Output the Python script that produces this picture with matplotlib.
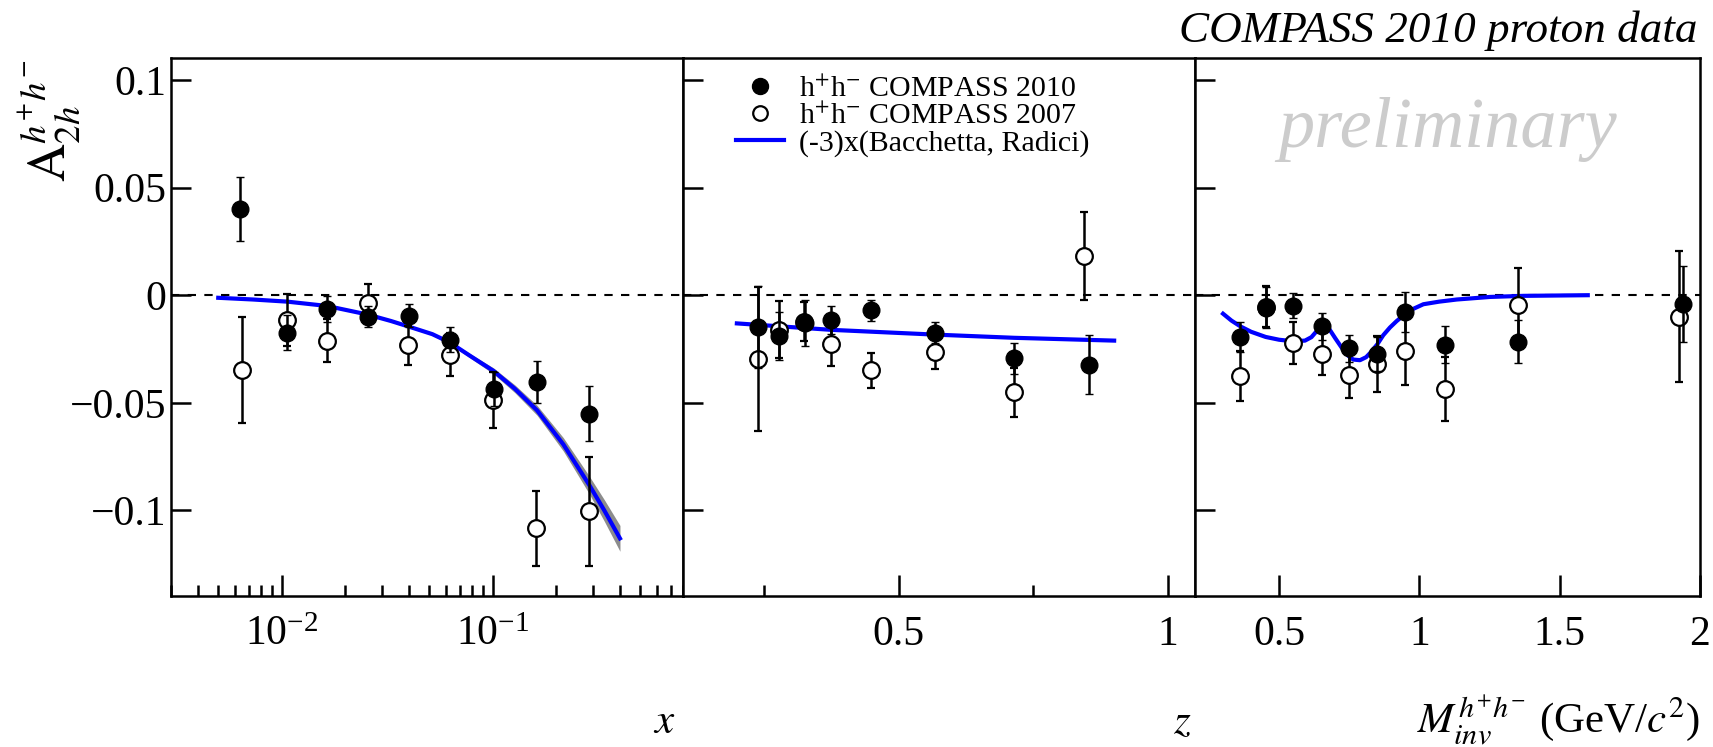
import numpy as np
import matplotlib
matplotlib.use("Agg")
import matplotlib.pyplot as plt
from matplotlib.lines import Line2D
from matplotlib.ticker import FixedLocator, NullFormatter, LogLocator, LogFormatterMathtext

plt.rcParams["font.family"] = ["Liberation Serif", "DejaVu Serif"]
plt.rcParams["mathtext.fontset"] = "stix"

# --- x panel (log scale) ---
x_2010 = [0.00633, 0.01054, 0.01644, 0.0256, 0.0401, 0.0630, 0.1011, 0.1626, 0.2867]
ax_2010 = [0.0400, -0.0174, -0.0063, -0.0100, -0.0095, -0.0206, -0.0435, -0.0405, -0.0551]
ex_2010 = [0.0147, 0.0080, 0.0060, 0.0050, 0.0052, 0.0060, 0.0080, 0.0098, 0.0127]
x_2007 = [0.00649, 0.0106, 0.01644, 0.0256, 0.0398, 0.0625, 0.1007, 0.161, 0.2867]
ax_2007 = [-0.0349, -0.0115, -0.0211, -0.0037, -0.0233, -0.0277, -0.0488, -0.1083, -0.1005]
ex_2007 = [0.0246, 0.0120, 0.0100, 0.0087, 0.0090, 0.0100, 0.0130, 0.0174, 0.0253]
x_model = [0.005, 0.00732, 0.01066, 0.0164, 0.0256, 0.0330, 0.0413, 0.0518, 0.0625, 0.0783,
           0.1011, 0.1276, 0.1626, 0.2165, 0.2867, 0.3387, 0.402]
a_model_x = [-0.0012, -0.0020, -0.0030, -0.0050, -0.0090, -0.0120, -0.0150, -0.0181, -0.0219,
             -0.0282, -0.0352, -0.0435, -0.0535, -0.0693, -0.0880, -0.1000, -0.1130]
band_x = [0.0, 0.0, 0.0, 0.0001, 0.0002, 0.0003, 0.0004, 0.0005, 0.0007, 0.0010,
          0.0014, 0.0018, 0.0023, 0.0031, 0.0041, 0.0050, 0.0060]

# --- z panel ---
z_2010 = [0.2395, 0.2784, 0.326, 0.3753, 0.448, 0.5667, 0.7148, 0.8537]
az_2010 = [-0.0148, -0.0189, -0.0128, -0.0116, -0.0070, -0.0174, -0.0294, -0.0324]
ez_2010 = [0.0190, 0.0110, 0.0108, 0.0065, 0.0050, 0.0050, 0.0070, 0.0137]
z_2007 = [0.2395, 0.2784, 0.324, 0.3753, 0.448, 0.5667, 0.7148, 0.8444]
az_2007 = [-0.0297, -0.0161, -0.0123, -0.0228, -0.0349, -0.0264, -0.0452, 0.0183]
ez_2007 = [0.0335, 0.0133, 0.0090, 0.0100, 0.0080, 0.0080, 0.0116, 0.0204]
z_model = [0.2, 0.3753, 0.5667, 0.7148, 0.9]
a_model_z = [-0.0131, -0.0161, -0.0183, -0.0198, -0.0211]

# --- invariant mass panel ---
m_2010 = [0.362, 0.4524, 0.55, 0.651, 0.75, 0.8476, 0.9488, 1.0917, 1.35, 1.9405]
am_2010 = [-0.0194, -0.0058, -0.0048, -0.0145, -0.0246, -0.0274, -0.0078, -0.0231, -0.0216, -0.0040]
em_2010 = [0.0070, 0.0096, 0.0056, 0.0063, 0.0063, 0.0080, 0.0095, 0.0086, 0.0100, 0.0178]
m_2007 = [0.362, 0.4524, 0.55, 0.651, 0.75, 0.8476, 0.9488, 1.0917, 1.35, 1.925]
am_2007 = [-0.0377, -0.0053, -0.0224, -0.0272, -0.0372, -0.0319, -0.0261, -0.0435, -0.0045, -0.0100]
em_2007 = [0.0116, 0.0095, 0.0098, 0.0100, 0.0108, 0.0130, 0.0158, 0.0150, 0.0170, 0.0304]
m_model = [0.30, 0.33, 0.362, 0.40, 0.452, 0.50, 0.55, 0.592, 0.615, 0.635, 0.657, 0.68, 0.70,
           0.723, 0.745, 0.764, 0.788, 0.81, 0.824, 0.85, 0.871, 0.895, 0.919, 0.945, 0.967,
           1.014, 1.07, 1.133, 1.252, 1.371, 1.60]
a_model_m = [-0.0086, -0.0118, -0.0145, -0.0170, -0.0194, -0.0207, -0.0214, -0.0211, -0.0195,
             -0.0165, -0.0145, -0.0160, -0.0200, -0.0244, -0.0280, -0.0299, -0.0302, -0.0288,
             -0.0269, -0.0228, -0.0186, -0.0150, -0.0120, -0.0092, -0.0070, -0.0042, -0.0030,
             -0.0020, -0.0008, -0.0003, 0.0]

LABEL_2010 = r"h$^{+}$h$^{-}$ COMPASS 2010"
LABEL_2007 = r"h$^{+}$h$^{-}$ COMPASS 2007"
LABEL_MODEL = "(-3)x(Bacchetta, Radici)"

TICK_FS = 30
BLUE = "#0000ff"


def draw_points(ax, xo, yo, eo, xf, yf, ef):
    kw = dict(ls="none", marker="o", ms=12, ecolor="black", elinewidth=1.8,
              capsize=3.2, capthick=1.8)
    ax.errorbar(xo, yo, yerr=eo, mfc="white", mec="black", mew=1.6, zorder=3, **kw)
    ax.errorbar(xf, yf, yerr=ef, mfc="black", mec="black", mew=1.0, zorder=4, **kw)


def style_axes(ax, show_ylabels):
    ax.set_ylim(-0.14, 0.11)
    ax.axhline(0, color="black", lw=1.5, ls=(0, (4, 4)), zorder=1)
    ax.yaxis.set_major_locator(FixedLocator([-0.1, -0.05, 0, 0.05, 0.1]))
    ax.tick_params(axis="both", which="both", direction="in", labelsize=TICK_FS, width=1.8,
                   top=False, right=False)
    ax.tick_params(axis="y", which="major", length=14.5, pad=4)
    ax.tick_params(axis="x", which="major", length=15, pad=14)
    ax.tick_params(axis="x", which="minor", length=8)
    for s in ax.spines.values():
        s.set_linewidth(1.8)
    if show_ylabels:
        ax.set_yticklabels(["\u22120.1", "\u22120.05", "0", "0.05", "0.1"])
    else:
        ax.set_yticklabels([])


fig = plt.figure(figsize=(17.13, 7.47), dpi=100)
bottom, height = 0.2015, 0.7202
ax1 = fig.add_axes([0.1001, bottom, 0.2986, height])
ax2 = fig.add_axes([0.3987, bottom, 0.2989, height])
ax3 = fig.add_axes([0.6976, bottom, 0.2948, height])

# x panel
ax1.set_xscale("log")
ax1.set_xlim(0.003, 0.8)
lo = np.array(a_model_x) - np.array(band_x)
hi = np.array(a_model_x) + np.array(band_x)
ax1.fill_between(x_model, lo, hi, color="#8c8c8c", lw=0, zorder=2)
ax1.plot(x_model, a_model_x, color=BLUE, lw=3, zorder=2.5, solid_joinstyle="round")
draw_points(ax1, x_2007, ax_2007, ex_2007, x_2010, ax_2010, ex_2010)
ax1.xaxis.set_major_locator(LogLocator(base=10))
ax1.xaxis.set_major_formatter(LogFormatterMathtext())
ax1.xaxis.set_minor_locator(LogLocator(base=10, subs=np.arange(2, 10)))
ax1.xaxis.set_minor_formatter(NullFormatter())
style_axes(ax1, True)

# z panel
ax2.set_xlim(0.1, 1.05)
ax2.plot(z_model, a_model_z, color=BLUE, lw=3, zorder=2.5)
draw_points(ax2, z_2007, az_2007, ez_2007, z_2010, az_2010, ez_2010)
ax2.xaxis.set_major_locator(FixedLocator([0.5, 1.0]))
ax2.xaxis.set_minor_locator(FixedLocator([0.25, 0.75]))
ax2.set_xticklabels(["0.5", "1"])
style_axes(ax2, False)

handles = [
    Line2D([], [], ls="none", marker="o", ms=11.5, mfc="black", mec="black"),
    Line2D([], [], ls="none", marker="o", ms=10.5, mfc="white", mec="black", mew=1.6),
    Line2D([], [], color=BLUE, lw=3),
]
ax2.legend(handles, [LABEL_2010, LABEL_2007, LABEL_MODEL], loc="upper left",
           bbox_to_anchor=(0.08, 0.99), frameon=False, fontsize=21.5,
           handlelength=1.6, handletextpad=0.5, labelspacing=0.0, borderaxespad=0)

# invariant mass panel
ax3.set_xlim(0.2, 2.0)
ax3.plot(m_model, a_model_m, color=BLUE, lw=3, zorder=2.5, solid_joinstyle="round")
draw_points(ax3, m_2007, am_2007, em_2007, m_2010, am_2010, em_2010)
ax3.xaxis.set_major_locator(FixedLocator([0.5, 1.0, 1.5, 2.0]))
ax3.set_xticklabels(["0.5", "1", "1.5", "2"])
style_axes(ax3, False)
ax3.text(0.5, 0.835, "preliminary", transform=ax3.transAxes, ha="center",
         va="baseline", fontsize=52, style="italic", color="#cccccc", zorder=0)

# titles and axis labels
fig.text(0.9907, 0.944, "COMPASS 2010 proton data", ha="right", va="baseline",
         fontsize=32.5, style="italic")
fig.text(0.029, 0.92, r"$\mathrm{A}_{2h}^{h^{+}h^{-}}$", rotation=90, ha="center",
         va="top", fontsize=38)
fig.text(0.3876, 0.019, r"$x$", ha="center", va="baseline", fontsize=31)
fig.text(0.690, 0.019, r"$z$", ha="center", va="baseline", fontsize=31)
fig.text(0.9924, 0.019, r"$M_{inv}^{h^{+}h^{-}}$ (GeV/$c^{2}$)", ha="right",
         va="baseline", fontsize=31)

fig.savefig("out.png", dpi=100)
